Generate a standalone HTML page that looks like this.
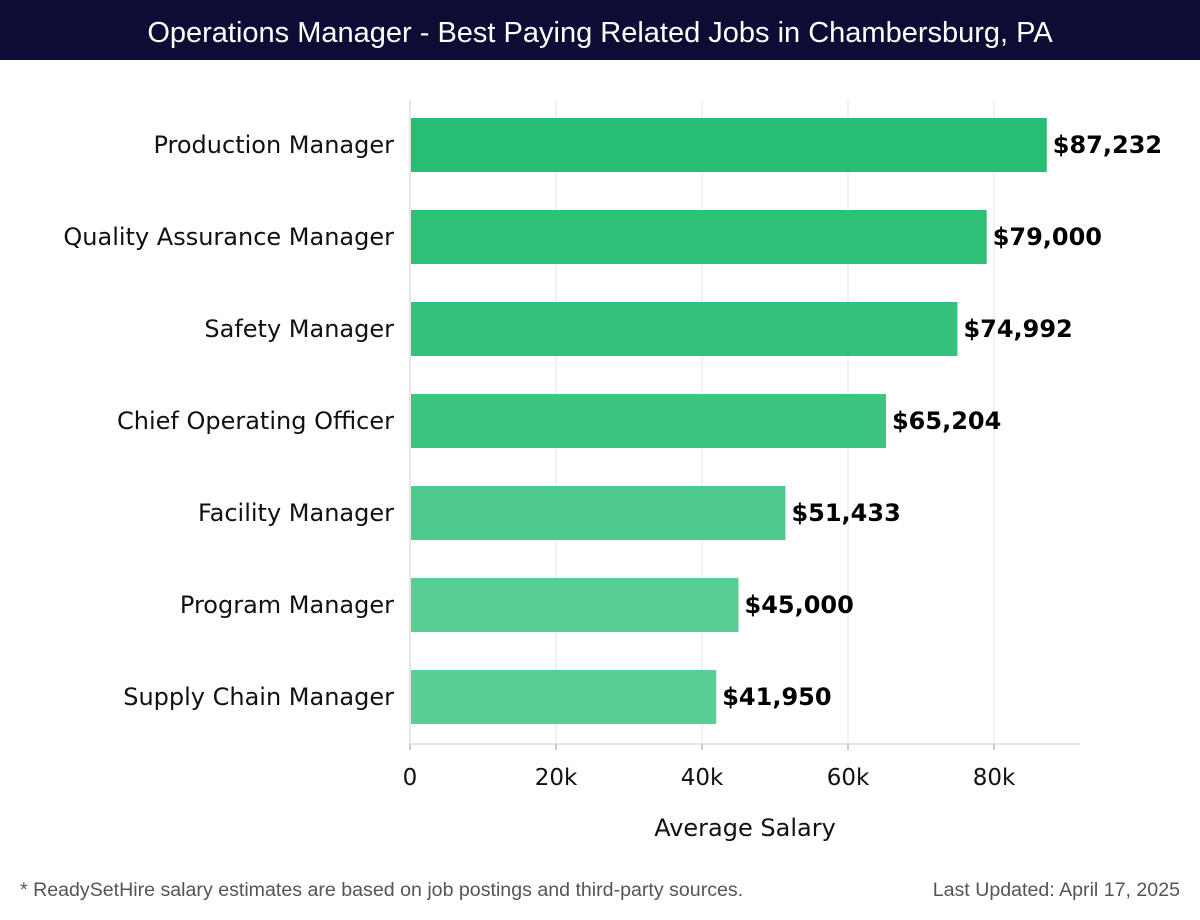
<!DOCTYPE html>
<html><head><meta charset="utf-8">
<style>
html,body{margin:0;padding:0;background:#fff;width:1200px;height:920px;overflow:hidden}
#title{position:absolute;left:0;top:0;width:1200px;height:60px;background:#0c0c35;color:#fff;font:29px "Liberation Sans",sans-serif;text-align:center;line-height:66px}
.foot{position:absolute;top:879px;font:19.6px "Liberation Sans",sans-serif;color:#555}
</style></head><body>
<div id="title">Operations Manager - Best Paying Related Jobs in Chambersburg, PA</div>
<svg id="chart" width="1200" height="920" style="position:absolute;left:0;top:0"></svg>
<div class="foot" style="left:20px">* ReadySetHire salary estimates are based on job postings and third-party sources.</div>
<div class="foot" style="right:20px">Last Updated: April 17, 2025</div>
<script>
const categories=["Production Manager","Quality Assurance Manager","Safety Manager","Chief Operating Officer","Facility Manager","Program Manager","Supply Chain Manager"];
const salaries=[87232,79000,74992,65204,51433,45000,41950];
const valueLabels=["$87,232","$79,000","$74,992","$65,204","$51,433","$45,000","$41,950"];
const ticks=[0,20000,40000,60000,80000];
const tickLabels=["0","20k","40k","60k","80k"];
const colors=["#27bd72","#2ec077","#33c27b","#3cc481","#4fca8e","#58cd94","#5bcd96"];
const svg=document.getElementById('chart');
const NS='http://www.w3.org/2000/svg';
const x0=410,pxPer=584/80000,top0=100,bottom0=744,step=92,barH=54;
const xs=v=>x0+v*pxPer;
const yc=i=>145+i*step;
function mk(t,a){const e=document.createElementNS(NS,t);for(const k in a)e.setAttribute(k,a[k]);svg.appendChild(e);return e;}
ticks.forEach((t,i)=>{
 if(i>0){const g=mk('line',{x1:xs(t),x2:xs(t),y1:top0,y2:bottom0,stroke:'#e3e3e3','stroke-width':1});
 
 }
 const tk=mk('line',{x1:xs(t),x2:xs(t),y1:bottom0,y2:bottom0+6,stroke:'#999'});
 
 
 const lb=mk('text',{x:xs(t),y:785,'text-anchor':'middle','font-family':'DejaVu Sans, sans-serif','font-size':23,fill:'#111'});
 lb.textContent=tickLabels[i];
 
 
});
const ya=mk('line',{x1:x0,x2:x0,y1:top0,y2:bottom0,stroke:'#ccc'});


const xa=mk('line',{x1:x0,x2:1080,y1:bottom0,y2:bottom0,stroke:'#ccc'});


categories.forEach((c,i)=>{
 const r=mk('rect',{x:x0+1,y:yc(i)-barH/2,width:xs(salaries[i])-x0-1,height:barH,fill:colors[i]});
 
 
 const l=mk('text',{x:394,y:yc(i)+8,'text-anchor':'end','font-family':'DejaVu Sans, sans-serif','font-size':24,fill:'#111'});
 l.textContent=c;
 
 
 const v=mk('text',{x:xs(salaries[i])+6,y:yc(i)+8,'font-family':'DejaVu Sans, sans-serif','font-size':24,'font-weight':'bold',fill:'#000'});
 v.textContent=valueLabels[i];
 
 
});
const at=mk('text',{x:745,y:836,'text-anchor':'middle','font-family':'DejaVu Sans, sans-serif','font-size':24,fill:'#111'});
at.textContent='Average Salary';


</script>
</body></html>
